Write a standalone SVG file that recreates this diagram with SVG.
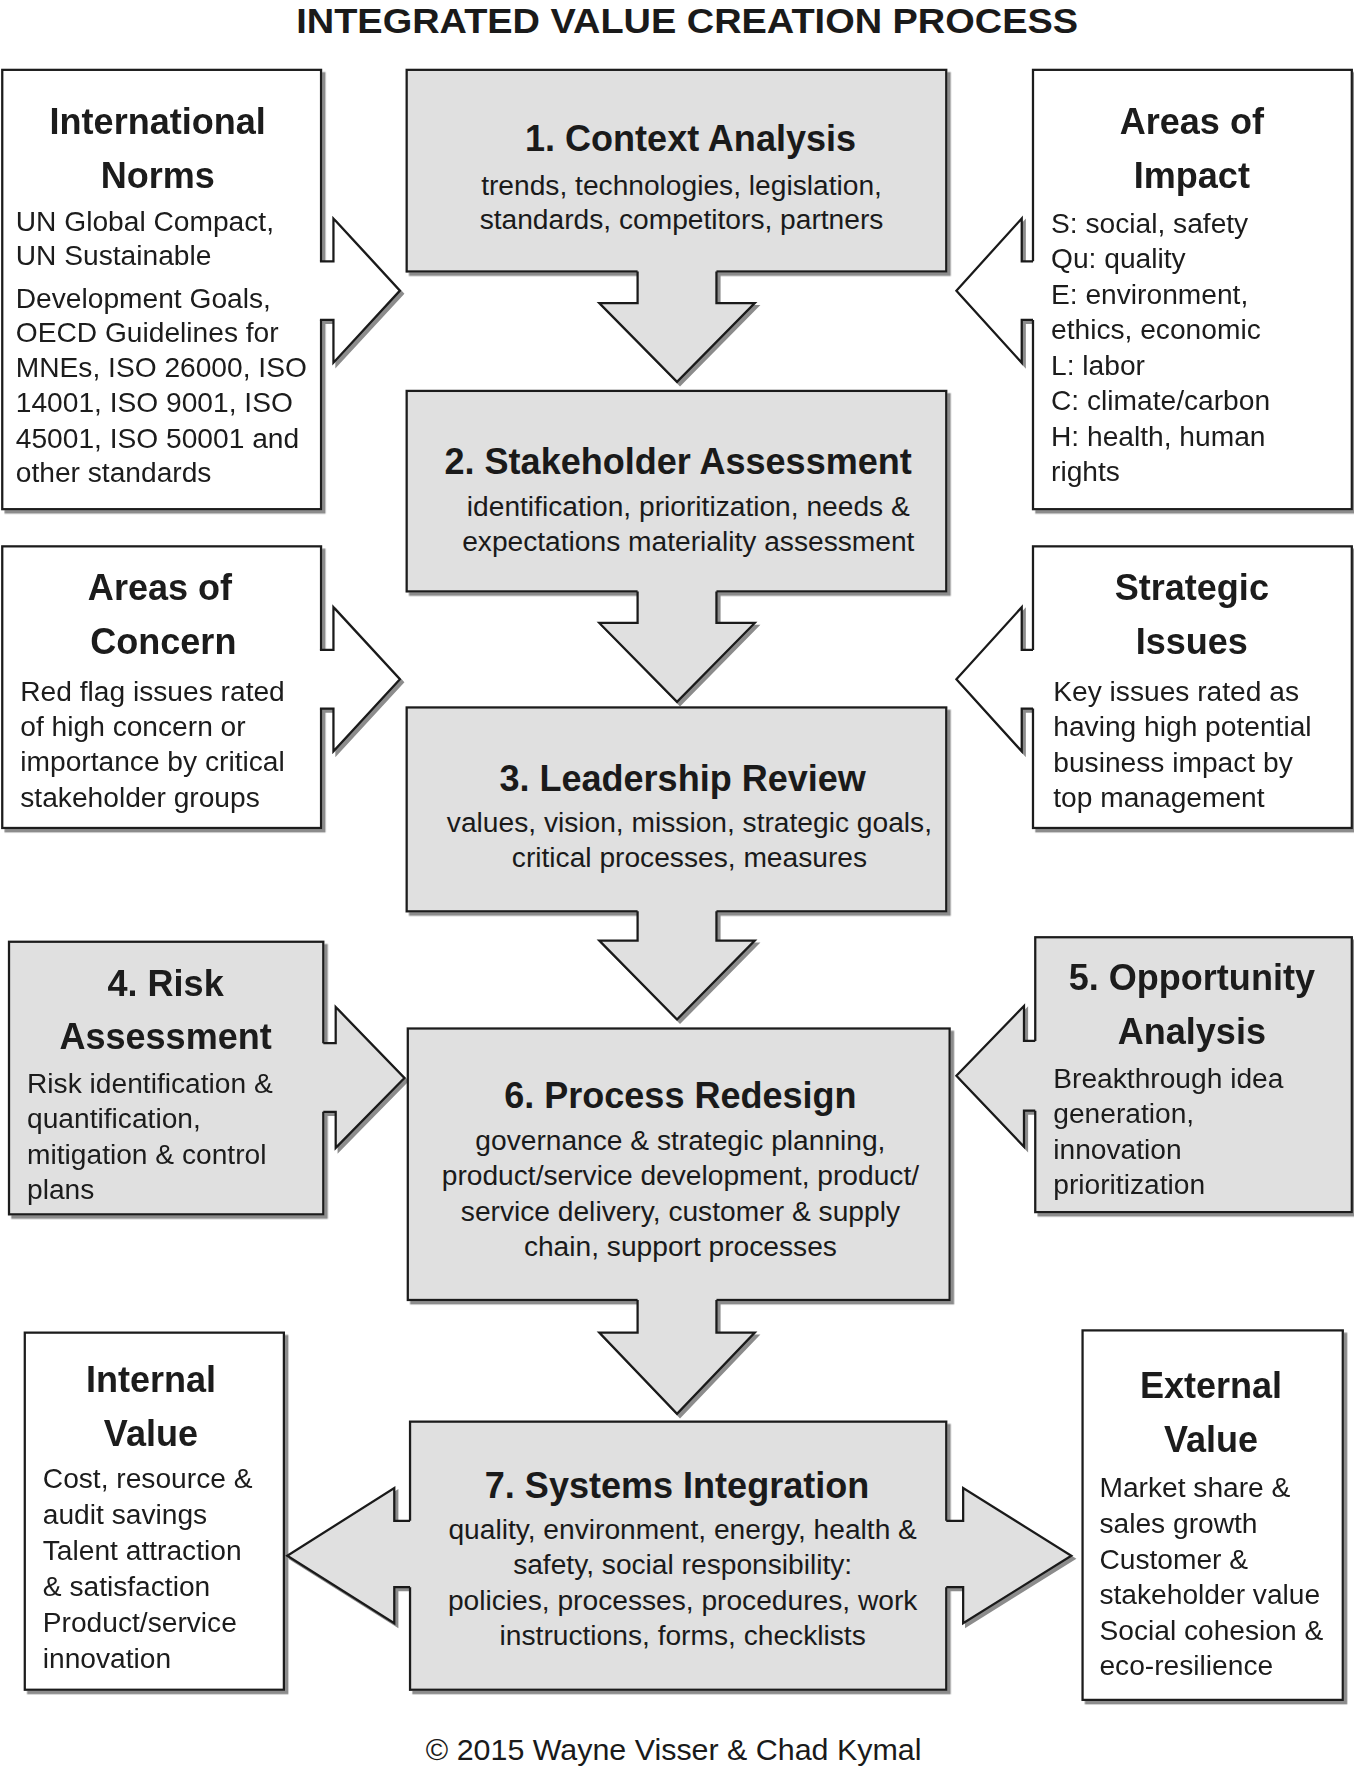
<svg xmlns="http://www.w3.org/2000/svg" width="1354" height="1767" viewBox="0 0 1354 1767">
<defs>
<filter id="ds" x="-10%" y="-10%" width="125%" height="125%"><feDropShadow dx="3" dy="3" stdDeviation="0.6" flood-color="#8c8c8c" flood-opacity="1"/></filter>
<filter id="sh" x="-10%" y="-10%" width="125%" height="125%"><feOffset in="SourceAlpha" dx="3" dy="3" result="o"/><feFlood flood-color="#8c8c8c"/><feComposite in2="o" operator="in"/></filter>
<style>
.g{fill:#e0e0e0}
.w{fill:#fff}
.bx{stroke:#1a1a1a;stroke-width:2}
.ln{fill:none;stroke:#1a1a1a;stroke-width:2;stroke-linejoin:miter}
text{font-family:"Liberation Sans",Arial,sans-serif;fill:#1a1a1a}
.t{font-size:32px;font-weight:bold;text-anchor:middle}
.b{font-size:25px}
.c{font-size:25px;text-anchor:middle}
</style>
</defs>
<rect width="1354" height="1767" fill="#fff"/>
<g transform="scale(1.1265)">
<text x="610" y="29" style="font-size:31px;font-weight:bold;text-anchor:middle" textLength="694" lengthAdjust="spacingAndGlyphs">INTEGRATED VALUE CREATION PROCESS</text>

<g id="connector-shadows" filter="url(#sh)">
<use href="#a1"/><use href="#a2"/><use href="#a3"/><use href="#a4"/><use href="#a5"/><use href="#a6"/><use href="#a7"/><use href="#a8"/><use href="#a9"/><use href="#a10"/><use href="#a11"/>
</g>

<g id="nodes">
<g id="norms" filter="url(#ds)"><rect class="w bx" x="2" y="62" width="283" height="390"/>
<text class="t" x="140" y="119">International</text><text class="t" x="140" y="167">Norms</text>
<text class="b" x="14" y="205">UN Global Compact,</text><text class="b" x="14" y="235">UN Sustainable</text><text class="b" x="14" y="273">Development Goals,</text><text class="b" x="14" y="304">OECD Guidelines for</text><text class="b" x="14" y="335">MNEs, ISO 26000, ISO</text><text class="b" x="14" y="366">14001, ISO 9001, ISO</text><text class="b" x="14" y="398">45001, ISO 50001 and</text><text class="b" x="14" y="428">other standards</text></g>

<g id="impact" filter="url(#ds)"><rect class="w bx" x="917" y="62" width="283" height="390"/>
<text class="t" x="1058" y="119">Areas of</text><text class="t" x="1058" y="167">Impact</text>
<text class="b" x="933" y="207">S: social, safety</text><text class="b" x="933" y="238">Qu: quality</text><text class="b" x="933" y="270">E: environment,</text><text class="b" x="933" y="301">ethics, economic</text><text class="b" x="933" y="333">L: labor</text><text class="b" x="933" y="364">C: climate/carbon</text><text class="b" x="933" y="396">H: health, human</text><text class="b" x="933" y="427">rights</text></g>

<g id="concern" filter="url(#ds)"><rect class="w bx" x="2" y="485" width="283" height="250"/>
<text class="t" x="142" y="533">Areas of</text><text class="t" x="145" y="581">Concern</text>
<text class="b" x="18" y="622">Red flag issues rated</text><text class="b" x="18" y="653">of high concern or</text><text class="b" x="18" y="684">importance by critical</text><text class="b" x="18" y="716">stakeholder groups</text></g>

<g id="strategic" filter="url(#ds)"><rect class="w bx" x="917" y="485" width="283" height="250"/>
<text class="t" x="1058" y="533">Strategic</text><text class="t" x="1058" y="581">Issues</text>
<text class="b" x="935" y="622">Key issues rated as</text><text class="b" x="935" y="653">having high potential</text><text class="b" x="935" y="685">business impact by</text><text class="b" x="935" y="716">top management</text></g>

<g id="risk" filter="url(#ds)"><rect class="g bx" x="8" y="836" width="279" height="242"/>
<text class="t" x="147" y="884">4. Risk</text><text class="t" x="147" y="931">Assessment</text>
<text class="b" x="24" y="970">Risk identification &amp;</text><text class="b" x="24" y="1001">quantification,</text><text class="b" x="24" y="1033">mitigation &amp; control</text><text class="b" x="24" y="1064">plans</text></g>

<g id="opportunity" filter="url(#ds)"><rect class="g bx" x="919" y="832" width="281" height="244"/>
<text class="t" x="1058" y="879">5. Opportunity</text><text class="t" x="1058" y="927">Analysis</text>
<text class="b" x="935" y="966">Breakthrough idea</text><text class="b" x="935" y="997">generation,</text><text class="b" x="935" y="1029">innovation</text><text class="b" x="935" y="1060">prioritization</text></g>

<g id="internal" filter="url(#ds)"><rect class="w bx" x="22" y="1183" width="230" height="317"/>
<text class="t" x="134" y="1236">Internal</text><text class="t" x="134" y="1284">Value</text>
<text class="b" x="38" y="1321">Cost, resource &amp;</text><text class="b" x="38" y="1353">audit savings</text><text class="b" x="38" y="1385">Talent attraction</text><text class="b" x="38" y="1417">&amp; satisfaction</text><text class="b" x="38" y="1449">Product/service</text><text class="b" x="38" y="1481">innovation</text></g>

<g id="external" filter="url(#ds)"><rect class="w bx" x="961" y="1181" width="231" height="328"/>
<text class="t" x="1075" y="1241">External</text><text class="t" x="1075" y="1289">Value</text>
<text class="b" x="976" y="1329">Market share &amp;</text><text class="b" x="976" y="1361">sales growth</text><text class="b" x="976" y="1393">Customer &amp;</text><text class="b" x="976" y="1424">stakeholder value</text><text class="b" x="976" y="1456">Social cohesion &amp;</text><text class="b" x="976" y="1487">eco-resilience</text></g>

<g id="context" filter="url(#ds)"><rect class="g bx" x="361" y="62" width="479" height="179"/></g>
<g id="stakeholder" filter="url(#ds)"><rect class="g bx" x="361" y="347" width="479" height="178"/></g>
<g id="leadership" filter="url(#ds)"><rect class="g bx" x="361" y="628" width="479" height="181"/></g>
<g id="redesign" filter="url(#ds)"><rect class="g bx" x="362" y="913" width="481" height="241"/></g>
<g id="integration" filter="url(#ds)"><rect class="g bx" x="364" y="1262" width="476" height="238"/></g>
</g>

<g id="connectors">
<g id="a1"><path class="g" d="M566,239 L566,269 L532,269 L601,339 L670,269 L636,269 L636,239 Z"/><path class="ln" d="M566,241 L566,269 L532,269 L601,339 L670,269 L636,269 L636,241"/></g>
<g id="a2"><path class="g" d="M566,523 L566,553 L532,553 L601,623 L670,553 L636,553 L636,523 Z"/><path class="ln" d="M566,525 L566,553 L532,553 L601,623 L670,553 L636,553 L636,525"/></g>
<g id="a3"><path class="g" d="M566,807 L566,835 L532,835 L601,905 L670,835 L636,835 L636,807 Z"/><path class="ln" d="M566,809 L566,835 L532,835 L601,905 L670,835 L636,835 L636,809"/></g>
<g id="a4"><path class="g" d="M566,1152 L566,1183 L532,1183 L601,1255 L670,1183 L636,1183 L636,1152 Z"/><path class="ln" d="M566,1154 L566,1183 L532,1183 L601,1255 L670,1183 L636,1183 L636,1154"/></g>
<g id="a5"><path class="w" d="M282,232 L296,232 L296,194 L355,258 L296,322 L296,284 L282,284 Z"/><path class="ln" d="M284,232 L296,232 L296,194 L355,258 L296,322 L296,284 L284,284"/></g>
<g id="a6"><path class="w" d="M282,577 L296,577 L296,539 L355,603 L296,667 L296,629 L282,629 Z"/><path class="ln" d="M284,577 L296,577 L296,539 L355,603 L296,667 L296,629 L284,629"/></g>
<g id="a7"><path class="g" d="M285,926 L298,926 L298,894 L359,957 L298,1019 L298,987 L285,987 Z"/><path class="ln" d="M287,926 L298,926 L298,894 L359,957 L298,1019 L298,987 L287,987"/></g>
<g id="a8"><path class="w" d="M919,232 L907,232 L907,194 L849,258 L907,322 L907,284 L919,284 Z"/><path class="ln" d="M917,232 L907,232 L907,194 L849,258 L907,322 L907,284 L917,284"/></g>
<g id="a9"><path class="w" d="M919,577 L907,577 L907,539 L849,603 L907,667 L907,629 L919,629 Z"/><path class="ln" d="M917,577 L907,577 L907,539 L849,603 L907,667 L907,629 L917,629"/></g>
<g id="a10"><path class="g" d="M921,924 L909,924 L909,893 L849,955 L909,1018 L909,986 L921,986 Z"/><path class="ln" d="M919,924 L909,924 L909,893 L849,955 L909,1018 L909,986 L919,986"/></g>
<g id="a11"><path class="g" d="M366,1350 L350,1350 L350,1321 L255,1381 L350,1441 L350,1409 L366,1409 Z"/><path class="ln" d="M364,1350 L350,1350 L350,1321 L255,1381 L350,1441 L350,1409 L364,1409"/>
<path class="g" d="M838,1350 L855,1350 L855,1321 L951,1381 L855,1441 L855,1409 L838,1409 Z"/><path class="ln" d="M840,1350 L855,1350 L855,1321 L951,1381 L855,1441 L855,1409 L840,1409"/></g>
</g>

<g id="center-labels">
<text class="t" x="613" y="134">1. Context Analysis</text>
<text class="c" x="605" y="173">trends, technologies, legislation,</text>
<text class="c" x="605" y="203">standards, competitors, partners</text>
<text class="t" x="602" y="421">2. Stakeholder Assessment</text>
<text class="c" x="611" y="458">identification, prioritization, needs &amp;</text>
<text class="c" x="611" y="489">expectations materiality assessment</text>
<text class="t" x="606" y="702">3. Leadership Review</text>
<text class="c" x="612" y="739">values, vision, mission, strategic goals,</text>
<text class="c" x="612" y="770">critical processes, measures</text>
<text class="t" x="604" y="984">6. Process Redesign</text>
<text class="c" x="604" y="1021">governance &amp; strategic planning,</text>
<text class="c" x="604" y="1052">product/service development, product/</text>
<text class="c" x="604" y="1084">service delivery, customer &amp; supply</text>
<text class="c" x="604" y="1115">chain, support processes</text>
<text class="t" x="601" y="1330">7. Systems Integration</text>
<text class="c" x="606" y="1366">quality, environment, energy, health &amp;</text>
<text class="c" x="606" y="1397">safety, social responsibility:</text>
<text class="c" x="606" y="1429">policies, processes, procedures, work</text>
<text class="c" x="606" y="1460">instructions, forms, checklists</text>
</g>

<text x="598" y="1562" style="font-size:27px;text-anchor:middle">© 2015 Wayne Visser &amp; Chad Kymal</text>
</g>
</svg>
